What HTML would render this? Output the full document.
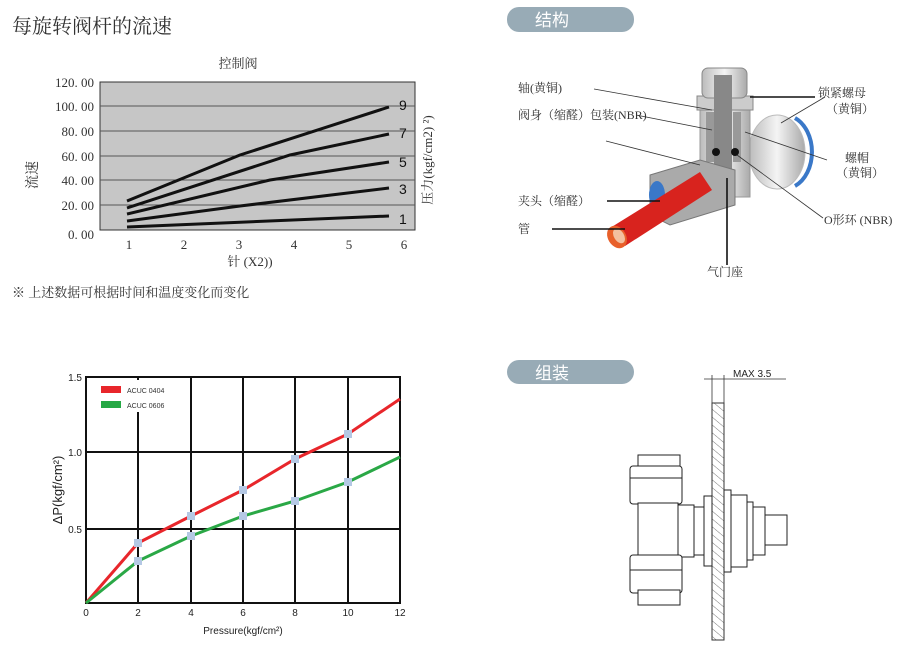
<!DOCTYPE html>
<html><head><meta charset="utf-8"><style>
body{margin:0;background:#fff}
svg{display:block}
text{font-family:"Liberation Serif","Noto Serif CJK SC",serif}
.s,.s text,text.s{font-family:"Liberation Sans","Noto Sans CJK SC",sans-serif}
</style></head><body>
<svg width="900" height="658" viewBox="0 0 900 658" xmlns="http://www.w3.org/2000/svg">
<defs>
<pattern id="h" width="6" height="6" patternUnits="userSpaceOnUse" patternTransform="rotate(-50)"><line x1="0" y1="0" x2="0" y2="6" stroke="#555" stroke-width="0.8"/></pattern>
<linearGradient id="g" x1="0" x2="1"><stop offset="0" stop-color="#bbb"/><stop offset="0.5" stop-color="#f4f4f4"/><stop offset="1" stop-color="#aaa"/></linearGradient>
</defs>
<text x="12" y="33" font-size="20" fill="#333">每旋转阀杆的流速</text>
<!-- top chart -->
<text x="238" y="68" font-size="13" fill="#333" text-anchor="middle">控制阀</text>
<rect x="100" y="82" width="315" height="148" fill="#c6c6c6" stroke="#333"/>
<g stroke="#555" stroke-width="1"><line x1="100" y1="106" x2="415" y2="106"/><line x1="100" y1="131" x2="415" y2="131"/><line x1="100" y1="156" x2="415" y2="156"/><line x1="100" y1="180" x2="415" y2="180"/><line x1="100" y1="205" x2="415" y2="205"/></g>
<g font-size="13" fill="#333" text-anchor="end">
<text x="94" y="87">120. 00</text><text x="94" y="111">100. 00</text><text x="94" y="136">80. 00</text><text x="94" y="161">60. 00</text><text x="94" y="185">40. 00</text><text x="94" y="210">20. 00</text><text x="94" y="239">0. 00</text></g>
<g font-size="13" fill="#333" text-anchor="middle"><text x="129" y="249">1</text><text x="184" y="249">2</text><text x="239" y="249">3</text><text x="294" y="249">4</text><text x="349" y="249">5</text><text x="404" y="249">6</text></g>
<text x="250" y="266" font-size="13" fill="#333" text-anchor="middle">针 (X2))</text>
<text x="0" y="0" font-size="14" fill="#333" transform="translate(37,175) rotate(-90)" text-anchor="middle">流速</text>
<text x="0" y="0" font-size="13" fill="#333" transform="translate(432,160) rotate(-90)" text-anchor="middle">压力(kgf/cm2)  ²)</text>
<g stroke="#111" stroke-width="3" fill="none">
<polyline points="127,201 240,155 389,107"/><polyline points="127,208 290,155 389,134"/><polyline points="127,214 270,180 389,162"/><polyline points="127,221 240,206 389,188"/><polyline points="127,227 389,216"/></g>
<g font-size="14" fill="#111" class="s"><text x="399" y="110">9</text><text x="399" y="138">7</text><text x="399" y="167">5</text><text x="399" y="194">3</text><text x="399" y="224">1</text></g>
<text x="12" y="297" font-size="13" fill="#333">※ 上述数据可根据时间和温度变化而变化</text>
<!-- bottom chart -->
<g stroke="#111" stroke-width="2">
<rect x="86" y="377" width="314" height="226" fill="none"/>
<line x1="138" y1="377" x2="138" y2="603"/><line x1="191" y1="377" x2="191" y2="603"/><line x1="243" y1="377" x2="243" y2="603"/><line x1="295" y1="377" x2="295" y2="603"/><line x1="348" y1="377" x2="348" y2="603"/>
<line x1="86" y1="452" x2="400" y2="452"/><line x1="86" y1="529" x2="400" y2="529"/></g>
<rect x="95" y="380" width="80" height="32" fill="#fff"/>
<rect x="101" y="386" width="20" height="7" fill="#e8262b"/><rect x="101" y="401" width="20" height="7" fill="#26a845"/>
<g class="s" font-size="7" fill="#333"><text x="127" y="393">ACUC 0404</text><text x="127" y="408">ACUC 0606</text></g>
<polyline points="86,603 138,543 191,516 243,490 295,459 348,434 400,399" stroke="#e8262b" stroke-width="3" fill="none"/>
<polyline points="86,603 138,561 191,536 243,516 295,501 348,482 400,457" stroke="#2aa846" stroke-width="3" fill="none"/>
<g fill="#b4c8e4">
<rect x="134" y="539" width="8" height="8"/><rect x="187" y="512" width="8" height="8"/><rect x="239" y="486" width="8" height="8"/><rect x="291" y="455" width="8" height="8"/><rect x="344" y="430" width="8" height="8"/>
<rect x="134" y="557" width="8" height="8"/><rect x="187" y="532" width="8" height="8"/><rect x="239" y="512" width="8" height="8"/><rect x="291" y="497" width="8" height="8"/><rect x="344" y="478" width="8" height="8"/></g>
<g class="s" font-size="10" fill="#222" text-anchor="end"><text x="82" y="381">1.5</text><text x="82" y="456">1.0</text><text x="82" y="533">0.5</text></g>
<g class="s" font-size="10" fill="#222" text-anchor="middle"><text x="86" y="616">0</text><text x="138" y="616">2</text><text x="191" y="616">4</text><text x="243" y="616">6</text><text x="295" y="616">8</text><text x="348" y="616">10</text><text x="400" y="616">12</text></g>
<text x="243" y="634" class="s" font-size="10" fill="#222" text-anchor="middle">Pressure(kgf/cm²)</text>
<text class="s" font-size="13" fill="#222" transform="translate(62,490) rotate(-90)" text-anchor="middle">ΔP(kgf/cm²)</text>
<!-- pills -->
<rect x="507" y="7" width="127" height="25" rx="12" fill="#98abb6"/>
<text x="535" y="26" font-size="17" fill="#fff" class="s">结构</text>
<rect x="507" y="360" width="127" height="24" rx="12" fill="#98abb6"/>
<text x="535" y="379" font-size="17" fill="#fff" class="s">组装</text>
<!-- valve drawing -->
<ellipse cx="777" cy="152" rx="28" ry="37" fill="url(#g)" stroke="#bbb"/>
<path d="M795,118 A28,37 0 0 1 795,186" stroke="#3a78c8" stroke-width="4" fill="none"/>
<rect x="700" y="100" width="50" height="97" fill="url(#g)" stroke="#999"/>
<rect x="697" y="96" width="56" height="14" fill="#ccc" stroke="#888"/>
<rect x="702" y="68" width="45" height="30" rx="6" fill="url(#g)" stroke="#888"/>
<rect x="714" y="75" width="18" height="100" fill="#888"/>
<rect x="706" y="112" width="8" height="50" fill="#999"/><rect x="733" y="112" width="8" height="50" fill="#999"/>
<circle cx="716" cy="152" r="4" fill="#111"/><circle cx="735" cy="152" r="4" fill="#111"/>
<path d="M650,175 L700,160 L735,170 L735,205 L670,225 L650,215 Z" fill="#aaa" stroke="#777"/>
<ellipse cx="657" cy="195" rx="8" ry="14" fill="#3a78c8"/>
<path d="M610,228 L700,172 L712,190 L625,246 Z" fill="#d8231e"/>
<ellipse cx="617" cy="237" rx="9" ry="12" fill="#e8602a" transform="rotate(-32 617 237)"/>
<ellipse cx="619" cy="236" rx="5" ry="8" fill="#f3c0a0" transform="rotate(-32 619 236)"/>
<g stroke="#333" stroke-width="0.8" fill="none">
<line x1="594" y1="89" x2="712" y2="110"/><line x1="636" y1="115" x2="712" y2="130"/><line x1="606" y1="141" x2="700" y2="165"/>
<line x1="781" y1="123" x2="825" y2="97"/><line x1="745" y1="132" x2="827" y2="160"/><line x1="737" y1="155" x2="823" y2="218"/>
</g>
<g stroke="#111" stroke-width="1.6"><line x1="750" y1="97" x2="815" y2="97"/><line x1="607" y1="201" x2="660" y2="201"/><line x1="552" y1="229" x2="625" y2="229"/><line x1="727" y1="178" x2="727" y2="265"/></g>
<g font-size="12" fill="#333">
<text x="518" y="92">轴(黄铜)</text><text x="518" y="119">阀身（缩醛）包装(NBR)</text><text x="518" y="205">夹头（缩醛）</text><text x="518" y="233">管</text>
<text x="818" y="97">锁紧螺母</text><text x="826" y="113">（黄铜）</text><text x="845" y="162">螺帽</text><text x="836" y="177">（黄铜）</text><text x="824" y="224">O形环 (NBR)</text><text x="707" y="276">气门座</text></g>
<!-- assembly -->
<g stroke="#333" stroke-width="0.8"><line x1="704" y1="379" x2="786" y2="379"/><line x1="712" y1="375" x2="712" y2="405"/><line x1="724" y1="375" x2="724" y2="405"/></g>
<text x="733" y="377" class="s" font-size="10" fill="#222">MAX 3.5</text>
<rect x="712" y="403" width="12" height="237" fill="url(#h)" stroke="#333"/>
<g fill="#fff" stroke="#222" stroke-width="1">
<rect x="638" y="455" width="42" height="15"/><rect x="630" y="466" width="52" height="38" rx="3"/>
<rect x="638" y="503" width="40" height="56"/><rect x="678" y="505" width="16" height="52"/>
<rect x="630" y="555" width="52" height="38" rx="3"/><rect x="638" y="590" width="42" height="15"/>
<rect x="694" y="507" width="12" height="48"/><rect x="704" y="496" width="8" height="70"/>
<rect x="724" y="490" width="7" height="82"/><rect x="731" y="495" width="16" height="72"/><rect x="747" y="502" width="6" height="58"/>
<rect x="753" y="507" width="12" height="48"/><rect x="765" y="515" width="22" height="30"/></g>
<g stroke="#222"><line x1="630" y1="478" x2="682" y2="478"/><line x1="630" y1="570" x2="682" y2="570"/></g>
</svg>
</body></html>
